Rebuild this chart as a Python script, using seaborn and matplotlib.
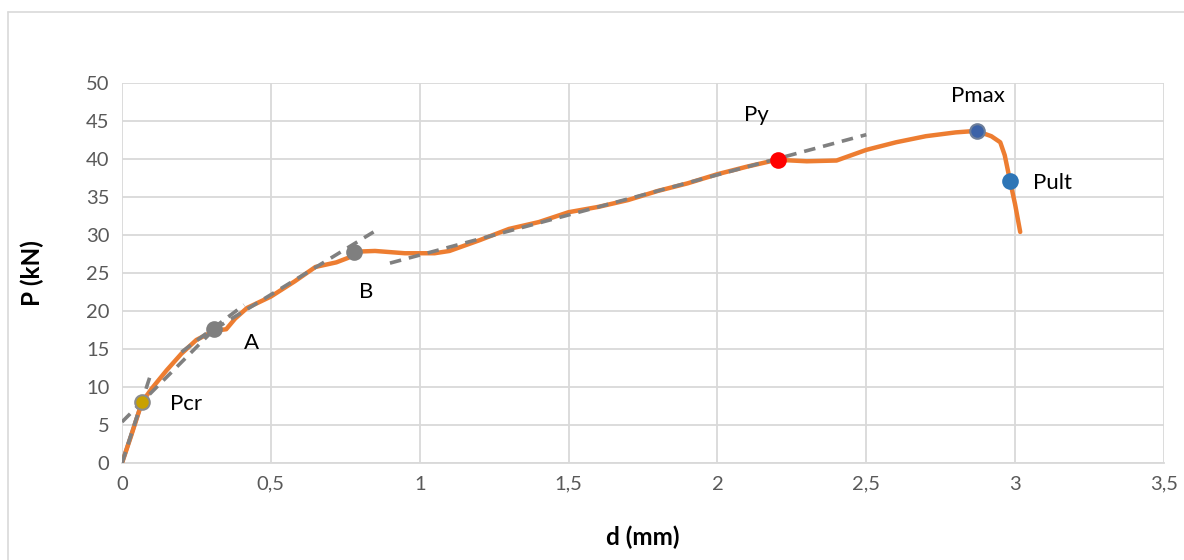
import matplotlib
matplotlib.use("Agg")
import matplotlib.pyplot as plt
import seaborn as sns
import pandas as pd
from matplotlib.lines import Line2D

sns.set_theme(style="white")
plt.rcParams['font.family'] = ['Lato', 'DejaVu Sans']

# Main load-displacement curve
d_curve = [0.0, 0.03, 0.067, 0.10, 0.15, 0.20, 0.25, 0.31, 0.35, 0.38, 0.42, 0.50, 0.58, 0.65,
           0.72, 0.76, 0.78, 0.85, 0.95, 1.05, 1.10, 1.20, 1.30, 1.40, 1.50, 1.60, 1.70, 1.80,
           1.90, 2.00, 2.10, 2.20, 2.30, 2.40, 2.50, 2.60, 2.70, 2.80, 2.87, 2.92, 2.95, 2.965,
           2.983, 3.00, 3.017]
P_curve = [0.0, 3.5, 8.0, 9.8, 12.2, 14.4, 16.2, 17.4, 17.6, 19.0, 20.4, 21.9, 23.9, 25.8,
           26.4, 27.0, 27.8, 27.9, 27.6, 27.6, 27.9, 29.3, 30.8, 31.7, 33.0, 33.7, 34.6, 35.8,
           36.8, 38.0, 39.0, 39.9, 39.7, 39.8, 41.2, 42.2, 43.0, 43.5, 43.7, 43.0, 42.2, 40.5,
           37.1, 34.0, 30.4]

# Initial blue segment
d_init = [0.0, 0.067]
P_init = [0.0, 8.0]

# Gray dashed tangent lines (start/end points)
tan_d = [[0.0, 0.095], [0.0, 0.31], [0.20, 0.41], [0.31, 0.845], [0.90, 2.50]]
tan_P = [[0.0, 11.5], [5.4, 17.6], [14.6, 20.8], [17.6, 30.4], [26.3, 43.2]]

# Characteristic points
pt_names = ["Pcr", "A", "B", "Py", "Pmax", "Pult"]
pt_d = [0.067, 0.31, 0.78, 2.205, 2.873, 2.983]
pt_P = [8.0, 17.6, 27.8, 39.9, 43.7, 37.1]
pt_colors = ["#C9A100", "#7F7F7F", "#7F7F7F", "#FF0000", "#3B62A8", "#2E75B6"]
pt_edges = ["#8C8C8C", "#7F7F7F", "#7F7F7F", "#FF0000", "#6E7F9A", "#2E75B6"]

# label positions
lab_d = [0.16, 0.41, 0.82, 2.13, 2.875, 3.06]
lab_P = [7.8, 15.8, 22.5, 45.8, 48.3, 36.8]
lab_ha = ["left", "left", "center", "center", "center", "left"]

x_ticks = [0, 0.5, 1, 1.5, 2, 2.5, 3, 3.5]
x_labels = ["0", "0,5", "1", "1,5", "2", "2,5", "3", "3,5"]
y_ticks = list(range(0, 55, 5))

fig = plt.figure(figsize=(11.84, 5.6), dpi=100)
ax = fig.add_axes([122/1184, 1-463/560, (1164-122)/1184, (463-83)/560])

# border of chart area
fig.add_artist(Line2D([8/1184, 8/1184], [0, 1-12/560], transform=fig.transFigure, color="#D9D9D9", lw=1.2))
fig.add_artist(Line2D([8/1184, 1], [1-12/560, 1-12/560], transform=fig.transFigure, color="#D9D9D9", lw=1.2))

sns.lineplot(x=d_init, y=P_init, ax=ax, color="#5B9BD5", lw=3, sort=False, zorder=2)
sns.lineplot(x=d_curve, y=P_curve, ax=ax, color="#ED7D31", lw=3.2, sort=False, zorder=3)
for xs, ys in zip(tan_d, tan_P):
    sns.lineplot(x=xs, y=ys, ax=ax, color="#808080", lw=2.6, sort=False, zorder=4,
                 linestyle=(0, (3.2, 2.2)))
for x, y, c, e in zip(pt_d, pt_P, pt_colors, pt_edges):
    ax.scatter([x], [y], s=110, color=c, edgecolor=e, linewidth=1.5, zorder=6)
for name, x, y, ha in zip(pt_names, lab_d, lab_P, lab_ha):
    ax.text(x, y, name, ha=ha, va="center", fontsize=16, color="black", zorder=7)

ax.set_xlim(0, 3.5)
ax.set_ylim(0, 50)
ax.set_xticks(x_ticks)
ax.set_xticklabels(x_labels)
ax.set_yticks(y_ticks)
ax.tick_params(axis="both", labelsize=14.5, colors="#595959", length=0, pad=9)
ax.grid(True, color="#D9D9D9", lw=1.3)
ax.set_axisbelow(True)
for s in ["left", "right", "top"]:
    ax.spines[s].set_visible(False)
ax.spines["bottom"].set_color("#D9D9D9")
ax.spines["bottom"].set_linewidth(1.3)
ax.set_xlabel("d (mm)", fontsize=17.5, fontweight="bold", color="black", labelpad=24)
ax.set_ylabel("P (kN)", fontsize=17.5, fontweight="bold", color="black", labelpad=30)

fig.savefig("out.png", dpi=100)
